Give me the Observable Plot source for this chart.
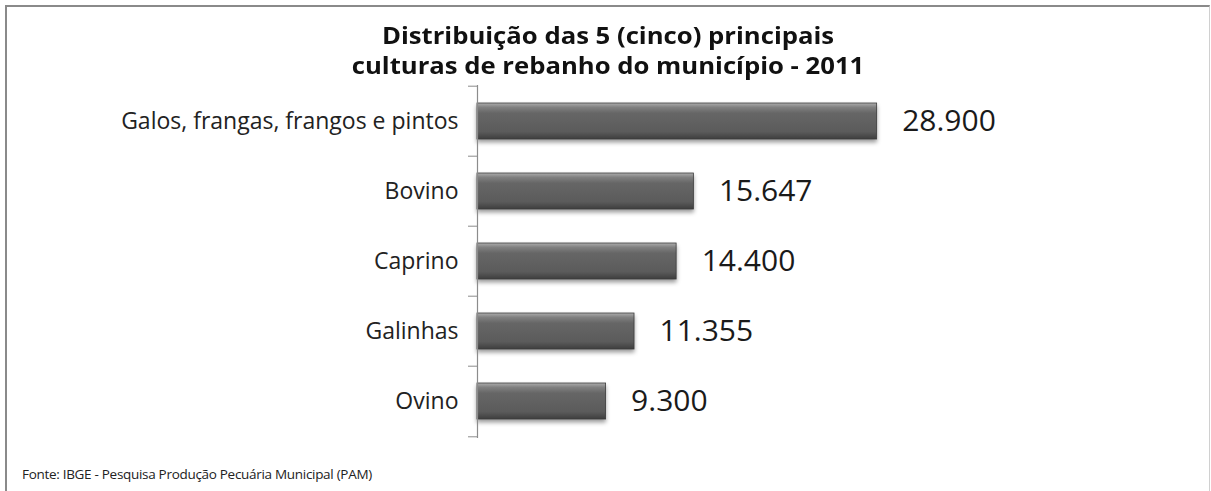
<!DOCTYPE html>
<html>
<head>
<meta charset="utf-8">
<script src="https://cdn.jsdelivr.net/npm/d3@7"></script>
<script src="https://cdn.jsdelivr.net/npm/@observablehq/plot@0.6"></script>
<style>
  html, body { margin: 0; padding: 0; background: #fff; }
  body { width: 1211px; height: 491px; position: relative; overflow: hidden; font-family: "Open Sans", sans-serif; }
  #frame { position: absolute; left: 5px; top: 5px; width: 1202px; height: 600px;
           border-top: 2px solid #8a8a8a; border-left: 2px solid #8a8a8a; border-right: 1px solid #d0d0d0; }
  #title { position: absolute; left: 258px; width: 700px; top: 20px; text-align: center;
           font-weight: 700; font-size: 24px; line-height: 30px; color: #111; transform: scaleX(1.07); }
  #chart { position: absolute; left: 0; top: 0; }
  #caption { position: absolute; left: 22px; top: 465px; font-size: 13.5px; color: #222; letter-spacing: -0.3px; }
</style>
</head>
<body>
<div id="frame"></div>
<div id="chart"></div>
<div id="title"></div>
<div id="caption"></div>
<script>
const titleLines = ["Distribuição das 5 (cinco) principais", "culturas de rebanho do município - 2011"];
const categories = ["Galos, frangas, frangos e pintos", "Bovino", "Caprino", "Galinhas", "Ovino"];
const values = [28900, 15647, 14400, 11355, 9300];
const captionText = "Fonte: IBGE - Pesquisa Produção Pecuária Municipal (PAM)";

document.getElementById("title").innerHTML = titleLines.join("<br>");
document.getElementById("caption").textContent = captionText;

const data = categories.map((c, i) => ({category: c, value: values[i]}));
const fmt = d3.formatLocale({decimal: ",", thousands: ".", grouping: [3], currency: ["", ""]}).format(",");

const W = 1211, H = 460, mTop = 85, mBottom = 22, mLeft = 477, mRight = 250;
const step = (H - mTop - mBottom) / categories.length;

const svg = Plot.plot({
  width: W,
  height: H,
  marginTop: mTop,
  marginBottom: mBottom,
  marginLeft: mLeft,
  marginRight: mRight,
  style: {fontFamily: "'Open Sans', sans-serif", color: "#222", background: "transparent", overflow: "visible"},
  x: {domain: [0, 35000], axis: null},
  y: {domain: categories, paddingInner: 0.48, paddingOuter: 0.24, axis: null, label: null},
  marks: [
    Plot.barX(data, {
      x: "value", y: "category",
      fill: "url(#barGrad)", stroke: "#3c3c3c", strokeWidth: 0.8,
      imageFilter: "drop-shadow(0px 3px 2px rgba(0,0,0,0.4))"
    }),
    Plot.ruleX([0], {stroke: "#8c8c8c", strokeWidth: 1.2}),
    Plot.axisY({tickSize: 0, tickPadding: 19, fontSize: 23, fill: "#222", label: null}),
    Plot.axisY({tickSize: 9, tickFormat: () => "", stroke: "#8c8c8c", dy: -step / 2, label: null}),
    Plot.axisY({ticks: [categories[categories.length - 1]], tickSize: 9, tickFormat: () => "", stroke: "#8c8c8c", dy: step / 2, label: null}),
    Plot.text(data, {x: "value", y: "category", text: d => fmt(d.value), textAnchor: "start", dx: 25, fontSize: 30, fill: "#1a1a1a"})
  ]
});

const ns = "http://www.w3.org/2000/svg";
const defs = document.createElementNS(ns, "defs");
defs.innerHTML = `
  <linearGradient id="barGrad" x1="0" y1="0" x2="0" y2="1">
    <stop offset="0" stop-color="#adadad"/>
    <stop offset="0.12" stop-color="#808080"/>
    <stop offset="0.28" stop-color="#666666"/>
    <stop offset="0.8" stop-color="#5b5b5b"/>
    <stop offset="1" stop-color="#3e3e3e"/>
  </linearGradient>`;
svg.insertBefore(defs, svg.firstChild);
document.getElementById("chart").appendChild(svg);
</script>
</body>
</html>
